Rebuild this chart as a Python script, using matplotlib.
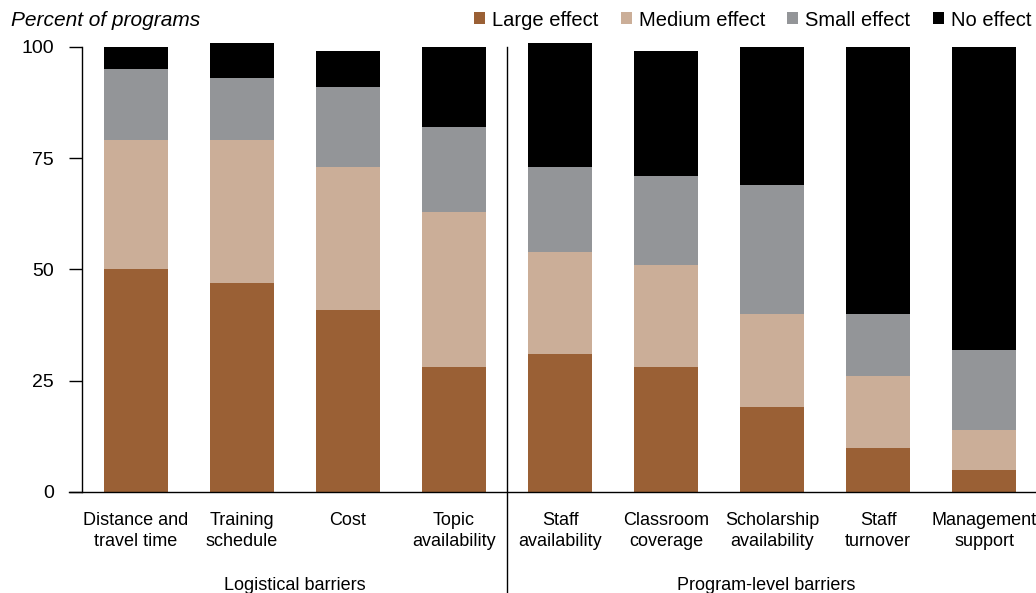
import matplotlib
matplotlib.use("Agg")
import matplotlib.pyplot as plt
import numpy as np

categories = ["Distance and\ntravel time", "Training\nschedule", "Cost", "Topic\navailability",
              "Staff\navailability", "Classroom\ncoverage", "Scholarship\navailability",
              "Staff\nturnover", "Management\nsupport"]
large = [50, 47, 41, 28, 31, 28, 19, 10, 5]
medium = [29, 32, 32, 35, 23, 23, 21, 16, 9]
small = [16, 14, 18, 19, 19, 20, 29, 14, 18]
no_effect = [5, 8, 8, 18, 28, 28, 31, 60, 68]
series_names = ["Large effect", "Medium effect", "Small effect", "No effect"]
colors = ["#9a6035", "#cbae98", "#939598", "#000000"]
groups = ["Logistical barriers", "Program-level barriers"]
yticks = [0, 25, 50, 75, 100]

FONT = "Liberation Sans"
W, H = 1036, 593
fig = plt.figure(figsize=(W / 100, H / 100), dpi=100)
ax_l, ax_r = 82 / W, 1.0
ax_b = 1 - 492 / H
ymax = 102
ax_t = 1 - (492 - ymax * 4.45) / H
ax = fig.add_axes([ax_l, ax_b, ax_r - ax_l, ax_t - ax_b])

x = np.arange(len(categories))
bottom = np.zeros(len(categories))
for vals, name, c in zip([large, medium, small, no_effect], series_names, colors):
    ax.bar(x, vals, width=0.6, bottom=bottom, color=c, label=name, linewidth=0)
    bottom += np.array(vals)

ax.set_xlim(-0.51, 8.49)
ax.set_ylim(0, ymax)
for s in ["top", "right"]:
    ax.spines[s].set_visible(False)
ax.spines["left"].set_bounds(0, 100)
ax.spines["left"].set_linewidth(1.0)
ax.spines["bottom"].set_linewidth(1.0)
ax.spines["bottom"].set_bounds(-0.635, 8.49)
ax.set_yticks(yticks)
ax.set_yticklabels([str(v) for v in yticks], fontsize=14, family=FONT)
ax.tick_params(axis="y", length=9.5, width=1.0, pad=10.5)
ax.set_xticks(x)
ax.set_xticklabels(categories, fontsize=13, family=FONT, linespacing=1.32)
ax.tick_params(axis="x", length=0, pad=14.5)

# vertical divider between the two barrier groups
ax.plot([3.5, 3.5], [100, -22.5], color="black", lw=1.0, clip_on=False)

# group labels under the category labels
ax.text(1.5, -21.1, groups[0], ha="center", va="center", fontsize=13, family=FONT)
ax.text(5.94, -21.1, groups[1], ha="center", va="center", fontsize=13, family=FONT)

fig.text(11 / W, 1 - 20 / H, "Percent of programs", ha="left", va="center",
         fontsize=15, style="italic", family=FONT)

fig.legend(loc="center left", bbox_to_anchor=(474 / W, 1 - 20 / H), ncol=4,
           frameon=False, handlelength=0.55, handleheight=0.55,
           handletextpad=0.35, columnspacing=1.1, borderaxespad=0, borderpad=0,
           prop={"family": FONT, "size": 14.5})

fig.savefig("out.png", dpi=100)
